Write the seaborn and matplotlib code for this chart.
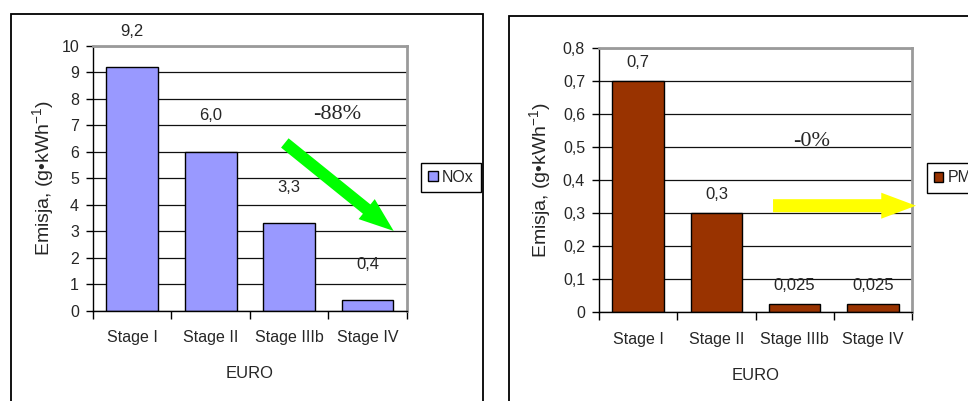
import matplotlib
matplotlib.use("Agg")
import matplotlib.pyplot as plt
import matplotlib.patches as mpatches
import seaborn as sns
import pandas as pd

# ---- data ----
stages = ["Stage I", "Stage II", "Stage IIIb", "Stage IV"]
nox_values = [9.2, 6.0, 3.3, 0.4]
pm_values = [0.7, 0.3, 0.025, 0.025]
nox_yticks = [0, 1, 2, 3, 4, 5, 6, 7, 8, 9, 10]
nox_yticklabels = ["0", "1", "2", "3", "4", "5", "6", "7", "8", "9", "10"]
pm_yticks = [0, 0.1, 0.2, 0.3, 0.4, 0.5, 0.6, 0.7, 0.8]
pm_yticklabels = ["0", "0,1", "0,2", "0,3", "0,4", "0,5", "0,6", "0,7", "0,8"]
nox_change = "-88%"
pm_change = "-0%"

sns.set_style("white")
plt.rcParams["font.family"] = ["Liberation Sans", "DejaVu Sans"]
plt.rcParams["mathtext.fontset"] = "custom"
plt.rcParams["mathtext.rm"] = "Liberation Sans"
plt.rcParams["mathtext.it"] = "Liberation Sans"

W, H = 968, 401
fig = plt.figure(figsize=(W / 100, H / 100), dpi=100)


def px_axes(left, top, right, bottom):
    return fig.add_axes([left / W, 1 - bottom / H, (right - left) / W, (bottom - top) / H])


def frame_box(x0, y0, x1, y1):
    fig.add_artist(mpatches.Rectangle((x0 / W, 1 - y1 / H), (x1 - x0) / W, (y1 - y0) / H,
                                      transform=fig.transFigure, fill=False,
                                      edgecolor="black", linewidth=1.3))


def panel(ax, values, color, yticks, yticklabels, ymax, label_offset, name,
          legend_xy, ylabel_x):
    df = pd.DataFrame({"stage": stages, "value": values})
    sns.barplot(data=df, x="stage", y="value", color=color, width=0.66,
                edgecolor="black", linewidth=1.0, saturation=1, ax=ax, zorder=2)
    ax.set_xlim(-0.5, 3.5)
    ax.set_ylim(0, ymax)
    ax.set_yticks(yticks)
    ax.set_yticklabels(yticklabels, fontsize=11.5)
    ax.set_xticks([0, 1, 2, 3])
    ax.set_xticklabels(stages, fontsize=11.5)
    ax.set_xticks([-0.5, 0.5, 1.5, 2.5, 3.5], minor=True)
    ax.tick_params(axis="x", which="major", length=0, pad=14)
    ax.tick_params(axis="x", which="minor", length=6, width=1, color="black",
                   direction="out", bottom=True)
    ax.tick_params(axis="y", length=5, width=1, color="black", direction="out",
                   left=True, pad=5)
    ax.yaxis.grid(True, color="#111111", linewidth=0.9)
    ax.set_axisbelow(True)
    for s in ("left", "bottom"):
        ax.spines[s].set_color("black")
        ax.spines[s].set_linewidth(1.0)
    for s in ("top", "right"):
        ax.spines[s].set_color("#9a9a9a")
        ax.spines[s].set_linewidth(2.0)
    ax.set_xlabel("EURO", fontsize=12)
    ax.xaxis.set_label_coords(0.5, -0.21)
    ax.set_ylabel("Emisja, (g\u2022kWh$^{-1}$)", fontsize=14)
    ax.yaxis.set_label_coords(ylabel_x, 0.5)
    for i, v in enumerate(values):
        ax.annotate(str(v).replace(".", ","), (i, v), xytext=(0, label_offset),
                    textcoords="offset points", ha="center", va="baseline",
                    fontsize=12, annotation_clip=False)
    ax.legend(handles=[mpatches.Patch(facecolor=color, edgecolor="black", linewidth=1)],
              labels=[name], loc="upper left",
              bbox_to_anchor=(legend_xy[0] / W, 1 - legend_xy[1] / H),
              bbox_transform=fig.transFigure, fontsize=11.5, frameon=True,
              fancybox=False, edgecolor="black", framealpha=1,
              handlelength=0.6, handleheight=0.6, handletextpad=0.25,
              borderpad=0.45, borderaxespad=0)
    ax.get_legend().get_frame().set_linewidth(1.0)


def big_arrow(ax, start, end, color, tail, head_w, head_l):
    style = mpatches.ArrowStyle.Simple(head_length=head_l, head_width=head_w,
                                       tail_width=tail)
    arr = mpatches.FancyArrowPatch(start, end, arrowstyle=style, mutation_scale=1,
                                   color=color, linewidth=0, shrinkA=0, shrinkB=0,
                                   clip_on=False, zorder=5)
    ax.add_patch(arr)


# outer chart frames
frame_box(11, 14.3, 482.7, 420)
frame_box(509, 16, 1000, 420)

# NOx panel
ax1 = px_axes(93, 45.7, 406.7, 310.7)
panel(ax1, nox_values, "#9999ff", nox_yticks, nox_yticklabels, 10, 22.5, "NOx",
      (421, 162.7), -0.118)
big_arrow(ax1, (1.946, 6.33), (3.334, 3.01), "#00ff00", 8.6, 18.5, 25)
ax1.text(2.615, 7.22, nox_change, family="Liberation Serif", fontsize=16,
         ha="center", va="baseline")

# PM panel
ax2 = px_axes(599, 48.3, 912, 312.3)
panel(ax2, pm_values, "#993300", pm_yticks, pm_yticklabels, 0.8, 10, "PM",
      (926.7, 163.3), -0.147)
big_arrow(ax2, (1.724, 0.323), (3.551, 0.323), "#ffff00", 9.4, 18.7, 25)
ax2.text(2.222, 0.505, pm_change, family="Liberation Serif", fontsize=16,
         ha="center", va="baseline")

fig.savefig("out.png", dpi=100)
